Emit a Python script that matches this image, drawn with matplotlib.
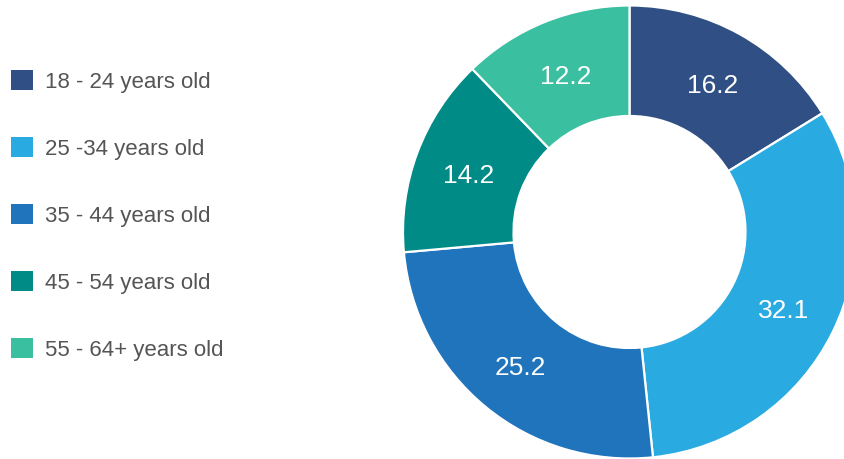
import matplotlib
matplotlib.use("Agg")
import matplotlib.pyplot as plt
from matplotlib.patches import Patch
import numpy as np

plt.rcParams['font.family'] = ['Liberation Sans', 'DejaVu Sans']

age_groups = ["18 - 24 years old", "25 -34 years old", "35 - 44 years old",
              "45 - 54 years old", "55 - 64+ years old"]
shares = [16.2, 32.1, 25.2, 14.2, 12.2]
colors = ["#305085", "#29aae1", "#1f74bc", "#008b87", "#3abfa0"]

W, H = 845, 459
fig = plt.figure(figsize=(W / 100, H / 100), dpi=100)

# donut
R = 226.5
cx, cy = 629.5, H - 232.0
ax = fig.add_axes([(cx - R) / W, (cy - R) / H, 2 * R / W, 2 * R / H])
ring = 1 - 116 / R
wedges, _ = ax.pie(shares, colors=colors, startangle=90, counterclock=False,
                   radius=1.0, wedgeprops=dict(width=ring, edgecolor="white", linewidth=1.6))
ax.set_xlim(-1, 1)
ax.set_ylim(-1, 1)
ax.set_aspect("equal")
ax.axis("off")

mid_r = 1 - ring / 2
for w, v in zip(wedges, shares):
    ang = np.deg2rad((w.theta1 + w.theta2) / 2)
    ax.text(mid_r * np.cos(ang), mid_r * np.sin(ang) - 0.015, f"{v}", color="white",
            fontsize=19, ha="center", va="center")

# legend
handles = [Patch(facecolor=c, edgecolor="none") for c in colors]
leg = fig.legend(handles, age_groups, loc="upper left",
                 bbox_to_anchor=(11 / W, 1 - 70 / H), frameon=False,
                 fontsize=16, handlelength=1.0, handleheight=1.0,
                 handletextpad=0.55, labelspacing=2.0, borderpad=0,
                 borderaxespad=0, labelcolor="#555555")

fig.savefig("out.png", dpi=100)
